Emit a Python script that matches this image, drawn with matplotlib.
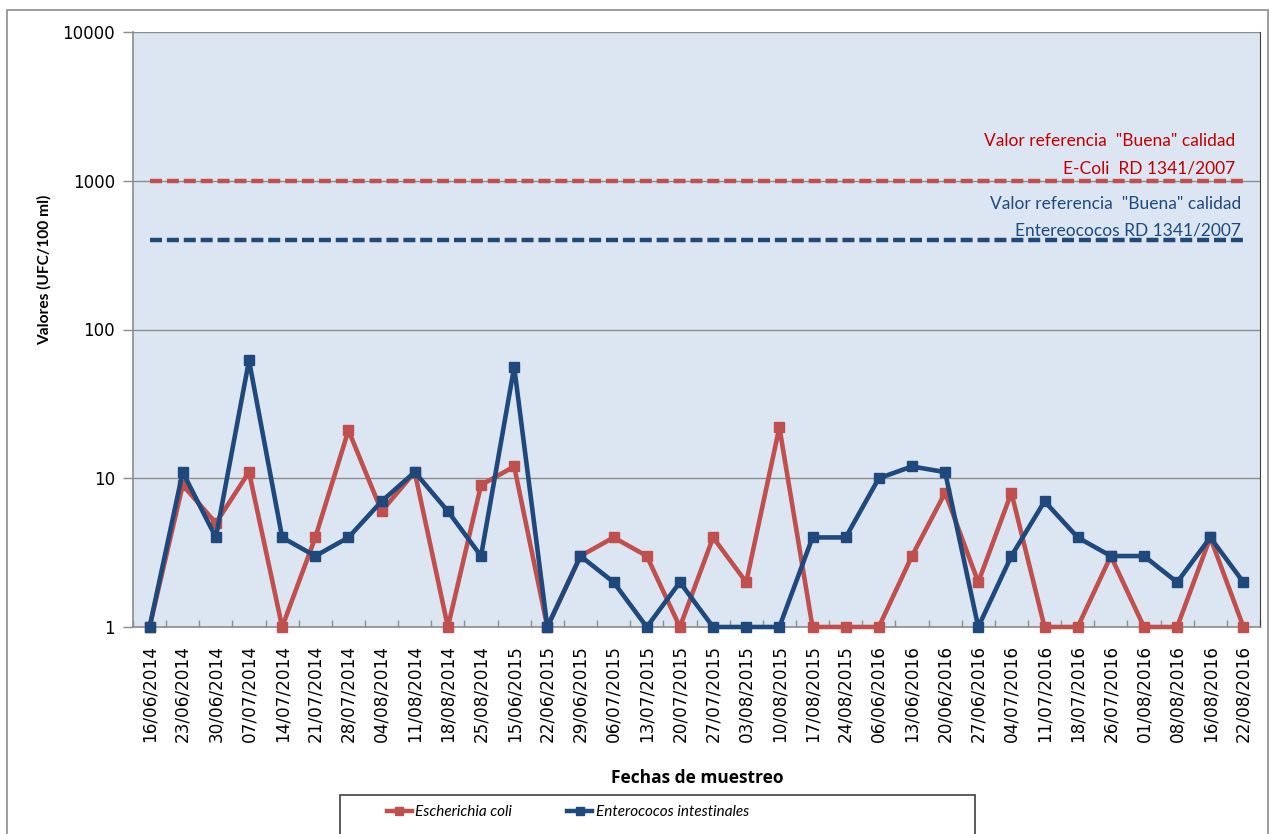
import matplotlib
matplotlib.use("Agg")
import matplotlib.pyplot as plt
from matplotlib.patches import Rectangle
from matplotlib.lines import Line2D

fechas = ["16/06/2014", "23/06/2014", "30/06/2014", "07/07/2014", "14/07/2014",
          "21/07/2014", "28/07/2014", "04/08/2014", "11/08/2014", "18/08/2014",
          "25/08/2014", "15/06/2015", "22/06/2015", "29/06/2015", "06/07/2015",
          "13/07/2015", "20/07/2015", "27/07/2015", "03/08/2015", "10/08/2015",
          "17/08/2015", "24/08/2015", "06/06/2016", "13/06/2016", "20/06/2016",
          "27/06/2016", "04/07/2016", "11/07/2016", "18/07/2016", "26/07/2016",
          "01/08/2016", "08/08/2016", "16/08/2016", "22/08/2016"]
e_coli = [1, 9, 5, 11, 1, 4, 21, 6, 11, 1, 9, 12, 1, 3, 4, 3, 1, 4, 2, 22,
          1, 1, 1, 3, 8, 2, 8, 1, 1, 3, 1, 1, 4, 1]
enterococos = [1, 11, 4, 62, 4, 3, 4, 7, 11, 6, 3, 56, 1, 3, 2, 1, 2, 1, 1, 1,
               4, 4, 10, 12, 11, 1, 3, 7, 4, 3, 3, 2, 4, 2]
ref_ecoli = 1000
ref_entero = 400

RED = "#C0504D"
BLUE = "#1F497D"
TXT_RED = "#C00000"

W, H = 1269, 834
fig = plt.figure(figsize=(W / 100, H / 100), dpi=100)

# outer chart border
fig.patches.append(Rectangle((7 / W, -0.01), (1268 - 7) / W, 1 - 10 / H + 0.01,
                             transform=fig.transFigure, fill=False,
                             edgecolor="#8C8C8C", lw=1.2))

ax = fig.add_axes([133 / W, 1 - 627 / H, (1260 - 133) / W, (627 - 32) / H])
ax.set_facecolor("#DCE6F2")
ax.set_yscale("log")
ax.set_ylim(1, 10000)
n = len(fechas)
x = list(range(n))
ax.set_xlim(-0.5, n - 0.5)

ax.grid(axis="y", which="major", color="#8C8C8C", lw=1.0)
ax.set_axisbelow(True)

ax.plot(x, e_coli, color=RED, lw=3.3, marker="s", ms=7.5, zorder=3, clip_on=False)
ax.plot(x, enterococos, color=BLUE, lw=3.3, marker="s", ms=7.5, zorder=4, clip_on=False)

ax.plot([0, n - 1], [ref_ecoli] * 2, color=RED, lw=3.2, ls=(0, (2.7, 1.1)),
        dash_capstyle="butt", zorder=3)
ax.plot([0, n - 1], [ref_entero] * 2, color=BLUE, lw=3.2, ls=(0, (2.7, 1.1)),
        dash_capstyle="butt", zorder=3)

tf = "Lato"
ax.text(1235 / W, 1 - 141 / H, 'Valor referencia  "Buena" calidad', transform=fig.transFigure,
        ha="right", va="center", color=TXT_RED, fontsize=12.5, family=tf)
ax.text(1235 / W, 1 - 168 / H, 'E-Coli  RD 1341/2007', transform=fig.transFigure,
        ha="right", va="center", color=TXT_RED, fontsize=12.5, family=tf)
ax.text(1241 / W, 1 - 204 / H, 'Valor referencia  "Buena" calidad', transform=fig.transFigure,
        ha="right", va="center", color=BLUE, fontsize=12.5, family=tf)
ax.text(1241 / W, 1 - 230 / H, 'Entereococos RD 1341/2007', transform=fig.transFigure,
        ha="right", va="center", color=BLUE, fontsize=12.5, family=tf)

ax.set_yticks([1, 10, 100, 1000, 10000])
ax.set_yticklabels(["1", "10", "100", "1000", "10000"])
ax.minorticks_off()
ax.tick_params(axis="y", direction="out", length=7, color="#8C8C8C", labelsize=12,
               pad=6, width=1)
ax.set_xticks([i - 0.5 for i in range(n + 1)], minor=True)
ax.set_xticks(x)
ax.set_xticklabels(fechas, rotation=90, fontsize=12.2)
ax.tick_params(axis="x", which="major", length=0, pad=13)
ax.tick_params(axis="x", which="minor", direction="in", length=5, color="#8C8C8C", width=1)

ax.spines["top"].set_visible(False)
ax.spines["left"].set_color("#8C8C8C")
ax.spines["bottom"].set_color("#8C8C8C")
ax.spines["right"].set_color("#404040")
ax.spines["left"].set_linewidth(1.2)
ax.spines["bottom"].set_linewidth(1.2)

fig.text(44 / W, 1 - 270 / H, "Valores (UFC/100 ml)", rotation=90, ha="center", va="center",
         fontsize=11.2, fontweight="bold", family="Lato")
fig.text(697 / W, 1 - 778 / H, "Fechas de muestreo", ha="center", va="center",
         fontsize=12.5, fontweight="bold", family="Open Sans")

# legend box
fig.patches.append(Rectangle((340 / W, -0.01), (975 - 340) / W, 1 - 795 / H + 0.01,
                             transform=fig.transFigure, fill=False,
                             edgecolor="#404040", lw=1.2))
handles = [Line2D([], [], color=RED, lw=3.2, marker="s", ms=6),
           Line2D([], [], color=BLUE, lw=3.2, marker="s", ms=6)]
leg = fig.legend(handles, ["Escherichia coli", "Enterococos intestinales"],
                 loc="center", bbox_to_anchor=(568 / W, 1 - 812 / H), ncol=2,
                 frameon=False, prop={"family": "Lato", "style": "italic", "size": 11},
                 handlelength=1.6, handletextpad=0.25, columnspacing=3.6)

fig.savefig("out.png", dpi=100)
